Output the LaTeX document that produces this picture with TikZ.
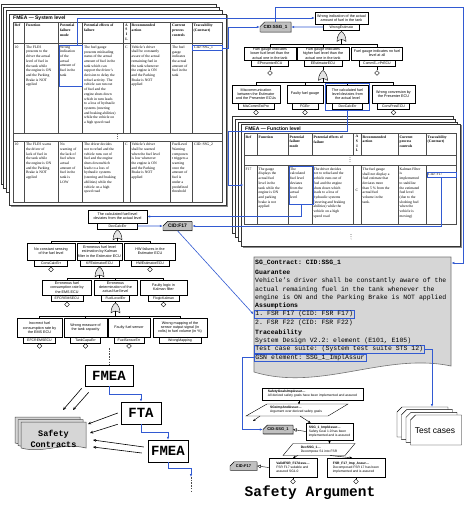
\documentclass[tikz,border=0pt]{standalone}
\usepackage{fontspec}
\setmainfont{Liberation Serif}
\setsansfont{Liberation Sans}
\setmonofont{Liberation Mono}
\usetikzlibrary{arrows.meta,shapes.geometric,shapes.misc,calc,fit,shadows}
\definecolor{lnblue}{RGB}{50,90,210}
\definecolor{cgray}{RGB}{214,214,214}
\definecolor{tabgray}{RGB}{192,192,192}
\newcommand\FEv[8]{%
  \node[fev, minimum width=#4pt, minimum height=#5pt] (#1) at (#2,#3+#5/2) {#6};
  \node[flab, minimum width=#8pt, anchor=north] (#1l) at (#1.south) {#7};}
\newcommand\OrG[3]{%
  \coordinate (#1) at (#2,#3);
  \coordinate (#1o) at (#2,#3+8);
  \draw[gatest] (#2-4.5,#3+10) .. controls (#2-4.5,#3+5) and (#2-2.5,#3+1.5) .. (#1)
     .. controls (#2+2.5,#3+1.5) and (#2+4.5,#3+5) .. (#2+4.5,#3+10)
     .. controls (#2+2,#3+7.5) and (#2-2,#3+7.5) .. cycle;}
\newcommand\Dia[3]{\node[dia] (#1) at (#2,#3) {};}
\newcommand\DocShape[5]{%
  \draw[#5] (#1,#2) -- (#1+#3,#2) -- (#1+#3,#2+#4)
     .. controls (#1+0.62*#3,#2+#4-6) and (#1+0.35*#3,#2+#4+6) .. (#1,#2+#4) -- cycle;}
\newcommand\TcShape[4]{%
  \draw[tcst] (#1+5,#2) -- (#1+#3,#2) -- (#1+#3,#2+#4) -- (#1,#2+#4) -- (#1,#2+5) -- cycle;}
\tikzset{
 pg/.style={draw=black!80, fill=white, line width=0.4pt},
 tbl/.style={draw=black!70, line width=0.35pt},
 cell/.style={font=\fontsize{3.7}{4.7}\selectfont, align=left, inner sep=0pt, anchor=north west},
 hcell/.style={cell, font=\bfseries\fontsize{3.7}{4.7}\selectfont},
 ttl/.style={font=\sffamily\bfseries\fontsize{5}{6}\selectfont, anchor=west, inner sep=0pt},
 hl/.style={draw=lnblue, line width=0.8pt, inner sep=0pt},
 bl/.style={draw=lnblue, line width=0.8pt, -{Latex[length=3pt,width=2.4pt]}},
 fev/.style={draw, fill=white, align=center, inner sep=0.4pt, line width=0.35pt,
   font=\sffamily\fontsize{3.7}{4.2}\selectfont,
   drop shadow={shadow xshift=0.6pt, shadow yshift=-0.6pt, fill=black!30, opacity=0.9}},
 flab/.style={draw, fill=white, inner sep=0.2pt, line width=0.35pt, minimum height=5.5pt,
   font=\sffamily\fontsize{3.5}{4}\selectfont,
   drop shadow={shadow xshift=0.5pt, shadow yshift=-0.5pt, fill=black!30, opacity=0.9}},
 gatest/.style={draw, fill=black!10, line width=0.4pt},
 dia/.style={diamond, draw, fill=white, inner sep=0pt, minimum width=5pt, minimum height=5pt, line width=0.4pt},
 fl/.style={draw, line width=0.35pt},
 cid/.style={chamfered rectangle, chamfered rectangle corners=north west,
   chamfered rectangle xsep=2.5pt, chamfered rectangle ysep=2.5pt, draw, fill=tabgray,
   inner sep=0.3pt, line width=0.4pt, font=\sffamily\bfseries\fontsize{4.5}{5}\selectfont,
   drop shadow={shadow xshift=0.6pt, shadow yshift=-0.6pt, fill=black!40, opacity=0.9}},
 bigbox/.style={draw, fill=white, line width=0.5pt, inner sep=0pt,
   font=\ttfamily\bfseries\fontsize{14}{14}\selectfont,
   drop shadow={shadow xshift=1pt, shadow yshift=-1pt, fill=black!35, opacity=0.9}},
 scst/.style={draw=black!70, fill=cgray, line width=0.5pt},
 ctst/.style={draw=black!55, fill=cgray, line width=0.6pt},
 ctl/.style={anchor=west, inner xsep=1.5pt, inner ysep=0.8pt, font=\ttfamily\fontsize{6.5}{7}\selectfont},
 ctlh/.style={ctl, draw=lnblue, line width=0.8pt},
 tcst/.style={draw=black, fill=white, line width=0.45pt},
 goal/.style={draw, fill=white, align=left, inner sep=0.8pt, line width=0.4pt,
   font=\sffamily\fontsize{3.3}{4}\selectfont,
   drop shadow={shadow xshift=0.6pt, shadow yshift=-0.6pt, fill=black!35, opacity=0.9}},
 strat/.style={draw, fill=white, line width=0.4pt},
 stxt/.style={align=left, inner sep=0pt, font=\sffamily\fontsize{3.3}{4}\selectfont},
 gar/.style={draw, line width=0.4pt, -{Stealth[length=2.6pt,width=2.2pt]}},
 ctx/.style={draw, line width=0.4pt, -{Triangle[open,length=3.5pt,width=3.5pt]}},
 blk/.style={draw, line width=0.6pt, -{Stealth[length=3.2pt,width=2.8pt]}},
}
\begin{document}
\begin{tikzpicture}[x=1pt,y=-1pt]
\useasboundingbox (0,0) rectangle (466,505);
\fill[white] (0,0) rectangle (466,505);

% ================= System-level FMEA
\draw[pg] (1,4) rectangle (216,184);
\draw[pg] (3.5,7) rectangle (219,188);
\draw[pg] (6,10) rectangle (222,192);
\fill[black!45] (10.5,15.5) rectangle (227.5,206.5);
\draw[pg] (9,14) rectangle (226,205);
\node[ttl] (st) at (13,18.5) {FMEA — System level};
\draw[tbl] (13,22) rectangle (222,202.5);
\draw[tbl] (13,43) -- (222,43) (13,133) -- (222,133) (13,141) -- (222,141);
\foreach \x in {24,58,82,123,130,170,192} \draw[tbl] (\x,22) -- (\x,133) (\x,141) -- (\x,202.5);
\foreach \d in {0,2.2,4.4} \fill (117.5,134.3+\d) circle (0.35pt);
\node[hcell] (sh1) at (14.5,24) {Ref};
\node[hcell] (sh2) at (26,24) {Function};
\node[hcell] (sh3) at (60,24) {Potential\\failure\\mode};
\node[hcell] (sh4) at (84,24) {Potential effects of\\failure};
\node[hcell, align=center, anchor=north] (sh5) at (126.5,23.5) {A\\S\\I\\L};
\node[hcell] (sh6) at (131.5,24) {Recommended\\action};
\node[hcell] (sh7) at (172,24) {Current\\process\\controls};
\node[hcell] (sh8) at (193.5,24) {Traceability\\(Contract)};
% row 1
\node[cell] (r1a) at (14.5,45.5) {10};
\node[cell] (r1b) at (26,45.5) {The FLES\\presents to the\\driver the actual\\level of fuel in\\the tank while\\the engine is ON\\and the Parking\\Brake is NOT\\applied};
\node[cell] (r1c) at (60,45.5) {Wrong\\indication\\of the\\actual\\amount of\\fuel in the\\tank};
\node[cell] (r1d) at (84,45.5) {The fuel gauge\\presents misleading\\status of the actual\\amount of fuel in the\\tank which can\\support the driver's\\decision to delay the\\refuel activity. The\\vehicle can run out\\of fuel and the\\engine shuts down\\which in turn leads\\to a loss of hydraulic\\systems (steering\\and braking abilities)\\while the vehicle on\\a high speed road};
\node[cell] (r1e) at (125,45.5) {C};
\node[cell] (r1f) at (131.5,45.5) {Vehicle's driver\\shall be constantly\\aware of the actual\\remaining fuel in\\the tank whenever\\the engine is ON\\and the Parking\\Brake is NOT\\applied};
\node[cell] (r1g) at (172,45.5) {The fuel\\gauge\\indicates\\the actual\\amount of\\fuel in the\\tank};
\node[cell] (r1h) at (194,45.7) {CID: SSG\_1};
\node[hl, minimum width=23pt, minimum height=41pt, anchor=north west] (fm1) at (58.5,45) {};
\node[hl, minimum width=29.5pt, minimum height=5.6pt, anchor=north west] (tr1) at (192.3,44.8) {};
% row 2
\node[cell] (r2a) at (14.5,143) {10};
\node[cell] (r2b) at (26,143) {The FLES warns\\the driver of\\lack of fuel in\\the tank while\\the engine is ON\\and the Parking\\Brake is NOT\\applied};
\node[cell] (r2c) at (60,143) {No\\warning of\\the lack of\\fuel when\\actual\\amount of\\fuel in the\\tank is\\LOW};
\node[cell] (r2d) at (84,143) {The driver decides\\not to refuel and the\\vehicle runs out of\\fuel and the engine\\shuts downwhich\\leads to a loss of\\hydraulic systems\\(steering and braking\\abilities) while the\\vehicle on a high\\speed road};
\node[cell] (r2e) at (125,143) {C};
\node[cell] (r2f) at (131.5,143) {Vehicle's driver\\shall be warned\\when the fuel level\\is low whenever\\the engine is ON\\and the Parking\\Brake is NOT\\applied};
\node[cell] (r2g) at (172,143) {FuelLevel\\Warning\\componen\\t triggers a\\warning\\once the\\amount of\\fuel is\\under a\\predefined\\threshold};
\node[cell] (r2h) at (194,143) {CID: SSG\_2};

% ================= Function-level FMEA
\draw[pg] (232,116) rectangle (453,233);
\draw[pg] (235,119) rectangle (455,237);
\draw[pg] (238,122) rectangle (457,241);
\fill[black!45] (242.5,125.5) rectangle (461.5,247.5);
\draw[pg] (241,124) rectangle (460,246);
\node[ttl] (ft) at (245,129) {FMEA — Function level};
\draw[tbl] (244,133.5) rectangle (456.5,224);
\draw[tbl] (244,155) -- (456.5,155) (244,165.5) -- (456.5,165.5);
\foreach \x in {257,288,312,353,361,398,426} \draw[tbl] (\x,133.5) -- (\x,155) (\x,165.5) -- (\x,224);
\foreach \d in {0,2.2,4.4} \fill (350,157.3+\d) circle (0.35pt);
\foreach \d in {0,2.2,4.4} \fill (351,234.5+\d) circle (0.35pt);
\node[hcell] (fh1) at (245.5,135.5) {Ref};
\node[hcell] (fh2) at (258.5,135.5) {Function};
\node[hcell] (fh3) at (289.5,135.5) {Potential\\failure\\mode};
\node[hcell] (fh4) at (313.5,135.5) {Potential effects of\\failure};
\node[hcell, align=center, anchor=north] (fh5) at (357,135) {A\\S\\I\\L};
\node[hcell] (fh6) at (362.5,135.5) {Recommended\\action};
\node[hcell] (fh7) at (399.5,135.5) {Current\\process\\controls};
\node[hcell] (fh8) at (427.5,135.5) {Traceability\\(Contract)};
\node[cell] (f1a) at (245.5,167.5) {F17};
\node[cell] (f1b) at (258.5,167.5) {The gauge\\displays the\\actual fuel\\level in the\\tank while the\\engine is ON\\and parking\\brake is not\\applied};
\node[cell] (f1c) at (290,167.5) {The\\calculated\\fuel level\\deviates\\from the\\actual\\level};
\node[cell] (f1d) at (313.5,167.5) {The driver decides\\not to refuel and the\\vehicle runs out of\\fuel and the engine\\shuts down which\\leads to a loss of\\hydraulic systems\\(steering and braking\\abilities) while the\\vehicle on a high\\speed road};
\node[cell] (f1e) at (355.5,189) {C};
\node[cell] (f1f) at (362.5,167.5) {The fuel gauge\\shall not display a\\fuel estimate that\\deviates more\\than 5 \% from the\\actual fuel\\volume in the\\tank.};
\node[cell] (f1g) at (399.5,167.5) {Kalman Filter\\is\\implemented\\to stabilize\\the estimated\\fuel level\\(due to the\\sloshing fuel\\when the\\vehicle is\\moving)};
\node[cell] (f1h) at (428,172.6) {CID: F17};
\node[hl, minimum width=24pt, minimum height=38pt, anchor=north west] (fm2) at (288.5,166.3) {};
\node[hl, minimum width=29.5pt, minimum height=5.6pt, anchor=north west] (tr2) at (426.5,171.8) {};

% ================= Top FTA
\FEv{TE1}{341.5}{12}{53}{12}{Wrong indication of the actual\\amount of fuel in the tank}{WrongEstimate}{36}
\OrG{G1}{341.5}{31.5}
\draw[fl] (TE1l.south) -- (G1);
\draw[fl] (G1o) -- (341.5,44.5);
\draw[fl] (270,44.5) -- (377,44.5);
\FEv{A}{270}{47}{52}{13}{Fuel gauge indicates\\lower fuel level than the\\actual one in the tank}{EPresenterECU}{37}
\FEv{B}{323}{47}{52}{13}{Fuel gauge indicates\\higher fuel level than the\\actual one in the tank}{EEstimatorECU}{38}
\FEv{C}{377}{47}{51}{13}{Fuel gauge indicates no fuel\\level at all}{CommE-->PrECU}{36}
\foreach \n in {A,B,C} \draw[fl] (\n.north) -- ++(0,-2.5);
\Dia{dA}{270}{73}
\Dia{dC}{377}{73}
\draw[fl] (Al.south) -- (dA.north);
\draw[fl] (Cl.south) -- (dC.north);
\OrG{G2}{323}{70.5}
\draw[fl] (Bl.south) -- (G2);
\draw[fl] (G2o) -- (323,82.5);
\draw[fl] (256,82.5) -- (393.5,82.5);
\FEv{D}{256}{85}{48}{18}{Miscommunication\\between the Estimator\\and the Presenter ECUs}{MisCommEstPre}{36}
\FEv{E}{305}{85}{36}{18}{Faulty fuel gauge}{FGErr}{26}
\FEv{F}{347.5}{85}{42}{18}{The calculated fuel\\level deviates from\\the actual level}{DevCalcErr}{30}
\FEv{G}{393.5}{85}{43}{18}{Wrong conversion by\\the Presenter ECU}{ConvPresECU}{32}
\foreach \n in {D,E,F,G} \draw[fl] (\n.north) -- ++(0,-2.5);
\Dia{dD}{256}{112.5}
\Dia{dE}{305}{112.5}
\Dia{dG}{393.5}{112.5}
\draw[fl] (Dl.south) -- (dD.north);
\draw[fl] (El.south) -- (dE.north);
\draw[fl] (Gl.south) -- (dG.north);
\node[hl, fit=(F)(Fl), inner sep=1.2pt] (hlF) {};
\node[cid, minimum width=31pt, minimum height=10pt] (CID1) at (275.5,27) {CID:SSG\_1};

% ================= Lower FTA
\FEv{TE2}{117.5}{210}{59}{13}{The calculated fuel level\\deviates from the actual level}{DevCalcErr}{40}
\node[cid, minimum width=29pt, minimum height=8pt, font=\sffamily\bfseries\fontsize{5}{5}\selectfont] (CID2) at (177.5,226) {CID:F17};
\OrG{G3}{117.5}{230}
\draw[fl] (TE2l.south) -- (G3);
\draw[fl] (G3o) -- (117.5,241);
\draw[fl] (51,241) -- (150,241);
\FEv{H}{51}{243}{48}{17}{No constant sensing\\of the fuel level}{ConsCalcErr}{33}
\FEv{I}{99.5}{243}{45}{17}{Erroneous fuel level\\estimation by Kalman\\filter in the Estimator ECU}{KFEstimatorECU}{39}
\FEv{J}{150}{243}{51}{17}{HW failures in the\\Estimator ECU}{HWEstimatorECU}{38}
\foreach \n in {H,I,J} \draw[fl] (\n.north) -- ++(0,-2);
\Dia{dH}{51}{269.5}
\Dia{dJ}{150}{269.5}
\draw[fl] (Hl.south) -- (dH.north);
\draw[fl] (Jl.south) -- (dJ.north);
\OrG{G4}{99.5}{267}
\draw[fl] (Il.south) -- (G4);
\draw[fl] (G4o) -- (99.5,278);
\draw[fl] (67,278) -- (163.5,278);
\FEv{K}{67}{280}{49}{15}{Erroneous fuel\\consumption rate by\\the EMS ECU}{EFCREMSECU}{32}
\FEv{L}{115.5}{280}{43}{15}{Erroneous\\determination of the\\actual fuel level}{FuelLevelErr}{28}
\FEv{M}{163.5}{280}{47}{15}{Faulty logic in\\Kalman filter}{FlogicKalman}{31}
\foreach \n in {K,L,M} \draw[fl] (\n.north) -- ++(0,-2);
\Dia{dK}{67}{304.5}
\Dia{dM}{163.5}{304.5}
\draw[fl] (Kl.south) -- (dK.north);
\draw[fl] (Ml.south) -- (dM.north);
\OrG{G5}{115.5}{303}
\draw[fl] (Ll.south) -- (G5);
\draw[fl] (G5o) -- (115.5,316);
\draw[fl] (39.5,316) -- (180,316);
\FEv{N}{39.5}{318.5}{45}{18.5}{Incorrect fuel\\consumption rate by\\the EMS ECU}{EFCREMSECU}{32}
\FEv{O}{85.5}{318.5}{43}{18.5}{Wrong measure of\\the tank capacity}{TankCapaErr}{30}
\FEv{P}{129}{318.5}{42}{18.5}{Faulty fuel sensor}{FuelSensorErr}{30}
\FEv{Q}{180}{318.5}{54}{18.5}{Wrong mapping of the\\sensor output signal (in\\volts) to fuel volume (in \%)}{WrongMapping}{42}
\foreach \n in {N,O,P,Q} \draw[fl] (\n.north) -- ++(0,-2.5);
\Dia{dN}{39.5}{346}
\Dia{dO}{85.5}{346}
\Dia{dP}{129}{346}
\draw[fl] (Nl.south) -- (dN.north);
\draw[fl] (Ol.south) -- (dO.north);
\draw[fl] (Pl.south) -- (dP.north);

% ================= Process chain
\node[bigbox, minimum width=48pt, minimum height=21pt] (fmeaA) at (109,375.5) {FMEA};
\node[bigbox, minimum width=40pt, minimum height=22pt] (ftaB) at (141,413) {FTA};
\node[bigbox, minimum width=40pt, minimum height=22pt] (fmeaC) at (168,451) {FMEA};
\coordinate (dtop) at (109,348);
\draw[line width=0.5pt, dash pattern=on 1.5pt off 1.2pt, black!70] (dtop) -- (fmeaA.north);
\draw[bl] (fmeaA.south) -- ++(0,8) -| (ftaB.north);
\draw[bl] (ftaB.south) -- ++(0,8) -| (fmeaC.north);
\coordinate (dend) at (191,477);
\coordinate (dend2) at (191,493);
\draw[bl] (fmeaC.south) -- ++(0,6) -| (dend);
\draw[line width=0.5pt, dash pattern=on 1.5pt off 1.2pt, black!70] (dend) -- (dend2);
\DocShape{15}{417}{65}{26}{scst}
\DocShape{18}{419.5}{65}{26}{scst}
\DocShape{21}{422}{65}{26}{scst}
\node[font=\ttfamily\bfseries\fontsize{8.5}{11}\selectfont, align=center, inner sep=0pt] (sc) at (53.5,438.5) {Safety\\Contracts};
\draw[blk] ($(fmeaA.south west)+(-3,2)$) -- ($(sc)+(9.5,-28.5)$);
\draw[blk] ($(fmeaA.south west)+(4,6)$) -- ($(sc)+(19.5,-28.5)$);
\draw[blk] ($(ftaB.west)+(-3,0)$) -- ($(sc)+(34.5,-14.5)$);
\draw[blk] ($(ftaB.south west)+(-3,0)$) -- ($(sc)+(36.5,-5.5)$);
\draw[blk] ($(fmeaC.west)+(-4,-4)$) -- ($(sc)+(39.5,1.5)$);
\draw[blk] ($(fmeaC.west)+(-6,2)$) -- ($(sc)+(39.5,8.5)$);

% ================= SG contract
\draw[ctst] (254,257) -- (451,257) -- (451,366) .. controls (385,352) and (320,392) .. (254,372) -- cycle;
\node[inner sep=0pt, minimum width=197pt, minimum height=110pt, anchor=north west] (sgc) at (254,257) {};
\node[ctl] (c1) at (253.5,263) {\textbf{SG\_Contract: CID:SSG\_1}};
\node[ctl] (c2) at (253.5,272) {\textbf{Guarantee}};
\node[ctl] (c3) at (253.5,281) {Vehicle’s driver shall be constantly aware of the};
\node[ctl] (c4) at (253.5,289.5) {actual remaining fuel in the tank whenever the};
\node[ctl] (c5) at (253.5,298) {engine is ON and the Parking Brake is NOT applied};
\node[ctl] (c6) at (253.5,306) {\textbf{Assumptions}};
\node[ctlh] (as1) at (253.5,314.3) {1. FSR F17 (CID: FSR F17)};
\node[ctl] (as2) at (253.5,322.5) {2. FSR F22 (CID: FSR F22)};
\node[ctl] (c9) at (253.5,333) {\textbf{Traceability}};
\node[ctl] (c10) at (253.5,341) {System Design V2.2: element (E101, E105)};
\node[ctlh] (tcs) at (253.5,349.3) {Test case suite: (System test suite STS 12)};
\node[ctlh] (gsn) at (253.5,357.8) {GSN element: SSG\_1\_ImplAssur};

% ================= Test cases
\TcShape{397}{407}{51}{30}
\TcShape{401.5}{409.7}{51}{30}
\TcShape{406}{412.4}{51}{30}
\TcShape{410.5}{415}{51}{30}
\node[font=\sffamily\fontsize{8.5}{10}\selectfont, inner sep=0pt] (tc) at (435,431) {Test cases};
\coordinate (tcin) at (432,407);

% ================= Safety argument (GSN)
\node[goal, minimum width=101pt, minimum height=12.5pt] (g1) at (312.5,394) {\textbf{SafetyGoalsImpAssur}—\\All derived safety goals have been implemented and assured};
\draw[strat] (267,404) -- (348,404) -- (328,416) -- (246,416) -- cycle;
\node[stxt] (s1) at (296,410) {\textbf{SGsImpAndAssur}—\\Argument over derived safety goals};
\node[goal, minimum width=47pt, minimum height=17pt] (g2) at (329.5,431.5) {\textbf{SSG\_1\_ImplAssur}—\\Safety Goal 1.0 has been\\implemented and is assured};
\node[cid, minimum width=30pt, minimum height=8pt, font=\sffamily\bfseries\fontsize{4}{4}\selectfont] (CID3) at (278,429.5) {CID:SSG\_1};
\draw[strat] (293,443.5) -- (355,443.5) -- (345,455.5) -- (283,455.5) -- cycle;
\node[stxt] (s2) at (319,449.5) {\textbf{DecSSG\_1}—\\Decompose S1 into FSR};
\node[goal, minimum width=48pt, minimum height=19pt] (g3) at (293,467.5) {\textbf{ValidFSR\_F17Assu}—\\FSR F17 suitable and\\assured SG1.0};
\node[goal, minimum width=58pt, minimum height=19pt] (g4) at (356,467.5) {\textbf{FSR\_F17\_Imp\_Assur}—\\Decomposed FSR 17 has been\\implemented and is assured};
\node[cid, minimum width=27pt, minimum height=8pt, font=\sffamily\bfseries\fontsize{4}{4}\selectfont] (CID4) at (243.5,466) {CID:F17};
\Dia{dg3}{293}{481.5}
\Dia{dg4}{356}{481.5}
\draw[fl] (g3.south) -- (dg3.north);
\draw[fl] (g4.south) -- (dg4.north);
\draw[gar] ($(g1.south)+(-13.5,0)$) -- ++(0,4);
\draw[gar] (260,416) -- ++(-7,5);
\draw[gar] (300,416) -- ($(g2.north)+(-19,0)$);
\draw[gar] (g2.south) -- ++(0,3.5);
\draw[gar] (298,455.5) -- ($(g3.north)+(0,0)$);
\draw[gar] (330,455.5) -- ($(g4.north)+(-4,0)$);
\draw[ctx] (g2.west) -- (CID3.east);
\draw[ctx] (g3.west) -- (CID4.east);
\node[font=\ttfamily\bfseries\fontsize{14.5}{15}\selectfont, inner sep=0pt] (sa) at (310,493) {Safety Argument};

% ================= Blue traceability links
\coordinate (k2) at (463.5,7);
\coordinate (k1) at (228,131);
\coordinate (f17in) at (243.5,185);
\draw[bl] ($(fm1.north east)+(-4.5,0)$) |- (TE1.west);
\draw[bl] (tr1.east) -- ++(6,0) |- (CID1.west);
\draw[bl] (TE1l.west) -- (CID1.east);
\draw[bl] (CID1.north) |- (k2) |- (c1 -| sgc.east);
\draw[bl] (hlF.south) |- (k1) |- (f17in);
\draw[bl] (fm2.south) |- (TE2.east);
\draw[bl] (tr2.south) |- (CID2.east);
\draw[bl] (TE2l.east) -- (CID2.west);
\draw[bl, line width=0.6pt] (CID2.south) -- (as1.west);
\draw[bl] (tcs.east) -| (tcin);
\draw[bl] (gsn.west) -- ++(-11.5,0) |- (CID3.west);
\end{tikzpicture}
\end{document}
